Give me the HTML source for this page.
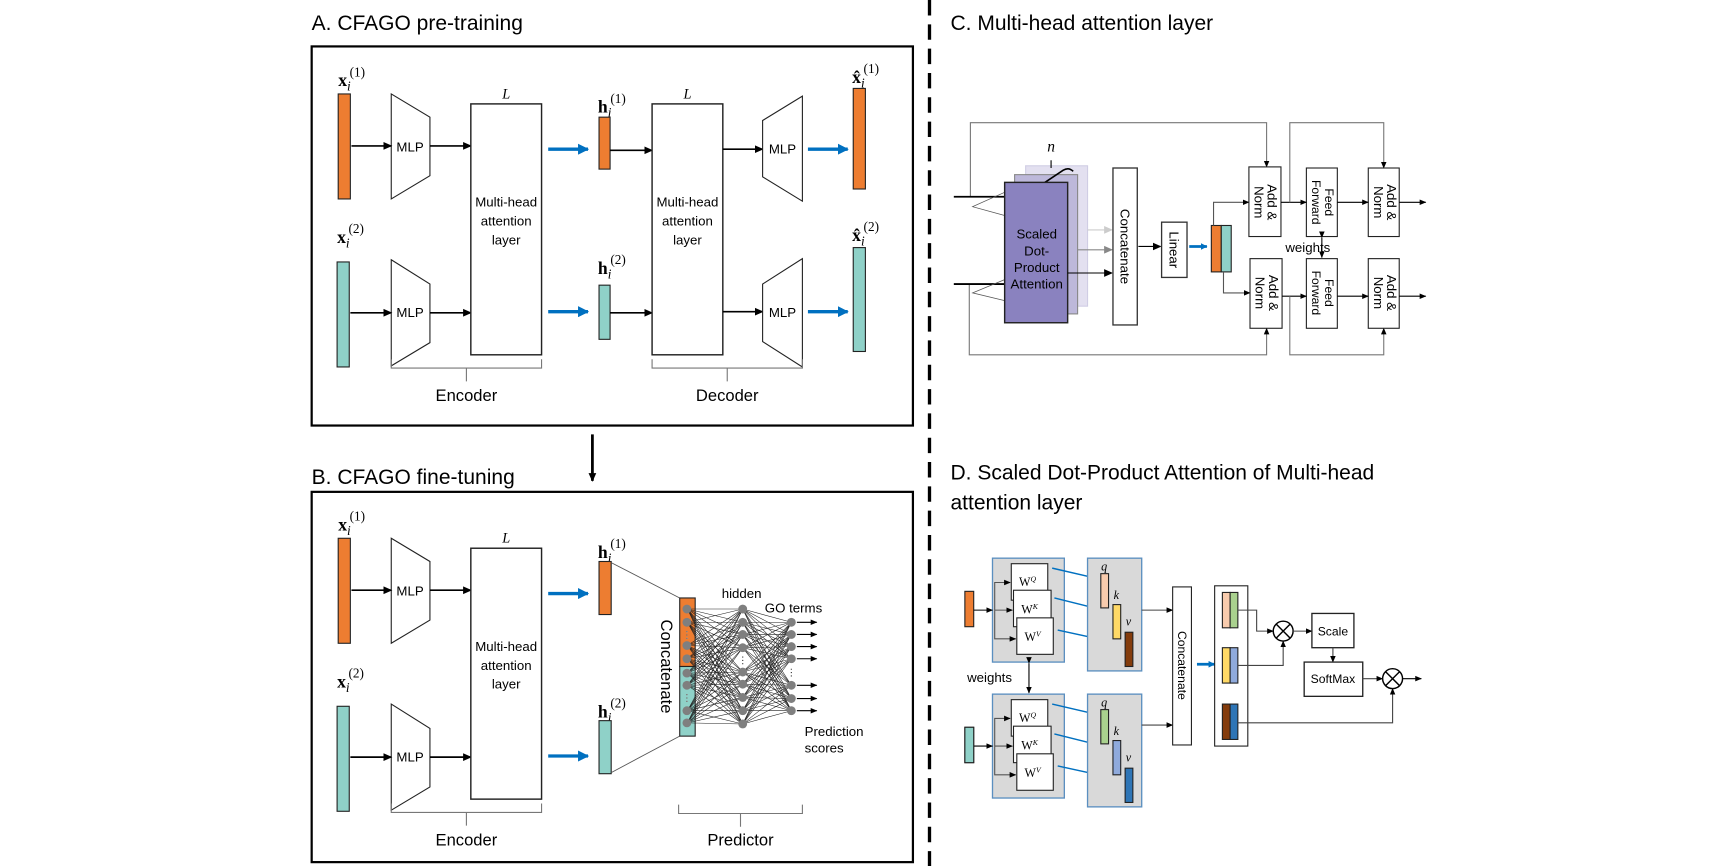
<!DOCTYPE html>
<html><head><meta charset="utf-8"><style>
html,body{margin:0;padding:0;background:#fff}
svg{display:block}
text{font-family:"Liberation Sans",sans-serif;fill:#000}
.m{font-family:"Liberation Serif",serif}
</style></head><body>
<svg id="s" width="1733" height="866" viewBox="0 0 1568 783.5" preserveAspectRatio="none" xmlns="http://www.w3.org/2000/svg">
<defs>
<marker id="a" markerWidth="8" markerHeight="8" refX="7" refY="4" orient="auto" markerUnits="userSpaceOnUse"><path d="M0,0.5 L8,4 L0,7.5z" fill="#000"/></marker>
<marker id="as" markerWidth="6" markerHeight="6" refX="5.5" refY="3" orient="auto" markerUnits="userSpaceOnUse"><path d="M0,0.5 L6,3 L0,5.5z" fill="#000"/></marker>
<marker id="ag" markerWidth="8" markerHeight="8" refX="7" refY="4" orient="auto" markerUnits="userSpaceOnUse"><path d="M0,0.5 L8,4 L0,7.5z" fill="#888"/></marker>
<marker id="al" markerWidth="8" markerHeight="8" refX="7" refY="4" orient="auto" markerUnits="userSpaceOnUse"><path d="M0,0.5 L8,4 L0,7.5z" fill="#ccc"/></marker>
<marker id="ab" markerWidth="10" markerHeight="10" refX="9" refY="5" orient="auto" markerUnits="userSpaceOnUse"><path d="M0,0 L10,5 L0,10z" fill="#0070c0"/></marker>
<marker id="abs" markerWidth="6" markerHeight="6" refX="5.5" refY="3" orient="auto" markerUnits="userSpaceOnUse"><path d="M0,0 L6,3 L0,6z" fill="#0070c0"/></marker>
</defs>

<!-- ===== Panel A ===== -->
<text x="282" y="27" font-size="19">A. CFAGO pre-training</text>
<rect x="282" y="42" width="544" height="343" fill="none" stroke="#000" stroke-width="2"/>
<g id="enc">
<text class="m" x="306" y="78" font-size="16" font-weight="bold">x<tspan font-weight="normal" font-style="italic" font-size="12" dy="4">i</tspan><tspan font-weight="normal" font-size="12" dx="-1" dy="-13">(1)</tspan></text>
<rect x="306" y="85" width="11" height="95" fill="#ed7d31" stroke="#222"/>
<text class="m" x="305" y="220" font-size="16" font-weight="bold">x<tspan font-weight="normal" font-style="italic" font-size="12" dy="4">i</tspan><tspan font-weight="normal" font-size="12" dx="-1" dy="-13">(2)</tspan></text>
<rect x="305" y="237" width="11" height="95" fill="#8fd1c8" stroke="#222"/>
<polygon points="354,85 389,106 389,159 354,180" fill="#fff" stroke="#222"/>
<polygon points="354,235 389,257 389,310 354,331" fill="#fff" stroke="#222"/>
<text x="371" y="137" font-size="12" text-anchor="middle">MLP</text>
<text x="371" y="287" font-size="12" text-anchor="middle">MLP</text>
<line x1="318" y1="132" x2="354" y2="132" stroke="#000" stroke-width="1.5" marker-end="url(#a)"/>
<line x1="317" y1="283" x2="354" y2="283" stroke="#000" stroke-width="1.5" marker-end="url(#a)"/>
<line x1="389" y1="132" x2="426" y2="132" stroke="#000" stroke-width="1.5" marker-end="url(#a)"/>
<line x1="389" y1="283" x2="426" y2="283" stroke="#000" stroke-width="1.5" marker-end="url(#a)"/>
<rect x="426" y="94" width="64" height="227" fill="#fff" stroke="#222" stroke-width="1.3"/>
<text class="m" x="458" y="89" font-size="13" font-style="italic" text-anchor="middle">L</text>
<text x="458" y="187" font-size="12" text-anchor="middle">Multi-head</text>
<text x="458" y="204" font-size="12" text-anchor="middle">attention</text>
<text x="458" y="221" font-size="12" text-anchor="middle">layer</text>
<line x1="496" y1="135" x2="532" y2="135" stroke="#0070c0" stroke-width="3" marker-end="url(#ab)"/>
<line x1="496" y1="282" x2="532" y2="282" stroke="#0070c0" stroke-width="3" marker-end="url(#ab)"/>
<path d="M354,325 v8 h68 v12 M422,333 h68 v-8" fill="none" stroke="#777"/>
<text x="422" y="363" font-size="15" text-anchor="middle">Encoder</text>
</g>
<text class="m" x="541" y="102" font-size="16" font-weight="bold">h<tspan font-weight="normal" font-style="italic" font-size="12" dy="4">i</tspan><tspan font-weight="normal" font-size="12" dx="-1" dy="-13">(1)</tspan></text>
<rect x="542" y="106" width="10" height="47" fill="#ed7d31" stroke="#222"/>
<text class="m" x="541" y="248" font-size="16" font-weight="bold">h<tspan font-weight="normal" font-style="italic" font-size="12" dy="4">i</tspan><tspan font-weight="normal" font-size="12" dx="-1" dy="-13">(2)</tspan></text>
<rect x="542" y="258" width="10" height="49" fill="#8fd1c8" stroke="#222"/>
<line x1="552" y1="136" x2="590" y2="136" stroke="#000" stroke-width="1.5" marker-end="url(#a)"/>
<line x1="552" y1="283" x2="590" y2="283" stroke="#000" stroke-width="1.5" marker-end="url(#a)"/>
<rect x="590" y="94" width="64" height="227" fill="#fff" stroke="#222" stroke-width="1.3"/>
<text class="m" x="622" y="89" font-size="13" font-style="italic" text-anchor="middle">L</text>
<text x="622" y="187" font-size="12" text-anchor="middle">Multi-head</text>
<text x="622" y="204" font-size="12" text-anchor="middle">attention</text>
<text x="622" y="221" font-size="12" text-anchor="middle">layer</text>
<line x1="654" y1="135" x2="690" y2="135" stroke="#000" stroke-width="1.5" marker-end="url(#a)"/>
<line x1="654" y1="282" x2="690" y2="282" stroke="#000" stroke-width="1.5" marker-end="url(#a)"/>
<polygon points="690,109 726,87 726,182 690,160" fill="#fff" stroke="#222"/>
<polygon points="690,257 726,234 726,332 690,309" fill="#fff" stroke="#222"/>
<text x="708" y="139" font-size="12" text-anchor="middle">MLP</text>
<text x="708" y="287" font-size="12" text-anchor="middle">MLP</text>
<line x1="731" y1="135" x2="767" y2="135" stroke="#0070c0" stroke-width="3" marker-end="url(#ab)"/>
<line x1="731" y1="282" x2="767" y2="282" stroke="#0070c0" stroke-width="3" marker-end="url(#ab)"/>
<text class="m" x="771" y="75" font-size="16" font-weight="bold">x̂<tspan font-weight="normal" font-style="italic" font-size="12" dy="4">i</tspan><tspan font-weight="normal" font-size="12" dx="-1" dy="-13">(1)</tspan></text>
<rect x="772" y="80" width="11" height="91" fill="#ed7d31" stroke="#222"/>
<text class="m" x="771" y="218" font-size="16" font-weight="bold">x̂<tspan font-weight="normal" font-style="italic" font-size="12" dy="4">i</tspan><tspan font-weight="normal" font-size="12" dx="-1" dy="-13">(2)</tspan></text>
<rect x="772" y="224" width="11" height="94" fill="#8fd1c8" stroke="#222"/>
<path d="M590,325 v8 h68 v12 M658,333 h68 v-8" fill="none" stroke="#777"/>
<text x="658" y="363" font-size="15" text-anchor="middle">Decoder</text>

<line x1="536" y1="393" x2="536" y2="435" stroke="#000" stroke-width="2.5" marker-end="url(#a)"/>

<!-- ===== Panel B ===== -->
<text x="282" y="438" font-size="19">B. CFAGO fine-tuning</text>
<rect x="282" y="445" width="544" height="335" fill="none" stroke="#000" stroke-width="2"/>
<use href="#enc" transform="translate(0,402)"/>
<text class="m" x="541" y="505" font-size="16" font-weight="bold">h<tspan font-weight="normal" font-style="italic" font-size="12" dy="4">i</tspan><tspan font-weight="normal" font-size="12" dx="-1" dy="-13">(1)</tspan></text>
<rect x="542" y="508" width="11" height="48" fill="#ed7d31" stroke="#222"/>
<text class="m" x="541" y="649" font-size="16" font-weight="bold">h<tspan font-weight="normal" font-style="italic" font-size="12" dy="4">i</tspan><tspan font-weight="normal" font-size="12" dx="-1" dy="-13">(2)</tspan></text>
<rect x="542" y="652" width="11" height="48" fill="#8fd1c8" stroke="#222"/>
<line x1="553" y1="509" x2="615" y2="541" stroke="#555" stroke-width="0.8"/>
<line x1="553" y1="699" x2="615" y2="666" stroke="#555" stroke-width="0.8"/>
<rect x="615" y="541" width="14" height="62" fill="#ed7d31" stroke="#222"/>
<rect x="615" y="603" width="14" height="63" fill="#8fd1c8" stroke="#222"/>
<text x="0" y="0" font-size="15" text-anchor="middle" transform="translate(598,603) rotate(90)">Concatenate</text>
<g id="nn"></g>
<text x="671" y="541" font-size="12" text-anchor="middle">hidden</text>
<text x="692" y="554" font-size="12">GO terms</text>
<text x="728" y="666" font-size="12">Prediction</text>
<text x="728" y="681" font-size="12">scores</text>
<path d="M614,728 v8 h56 v12 M670,736 h56 v-8" fill="none" stroke="#777"/>
<text x="670" y="765" font-size="15" text-anchor="middle">Predictor</text>

<!-- divider -->
<line x1="841" y1="0" x2="841" y2="784" stroke="#000" stroke-width="3" stroke-dasharray="14,8"/>

<!-- ===== Panel C ===== -->
<text x="860" y="27" font-size="19">C. Multi-head attention layer</text>
<polyline points="878,178 878,111 1146,111 1146,151" fill="none" stroke="#777" marker-end="url(#as)"/>
<polyline points="877,257 877,321 1146,321 1146,297" fill="none" stroke="#777" marker-end="url(#as)"/>
<line x1="863" y1="178" x2="909" y2="178" stroke="#000" stroke-width="1.6"/>
<line x1="863" y1="257" x2="909" y2="257" stroke="#000" stroke-width="1.6"/>
<polyline points="909,174 880,187 909,195" fill="none" stroke="#555" stroke-width="0.7"/>
<polyline points="909,253 880,265 909,272" fill="none" stroke="#555" stroke-width="0.7"/>
<rect x="928" y="150" width="56" height="127" fill="#e3e0f0" stroke="#d0cde4"/>
<rect x="918" y="158" width="57" height="126" fill="#bdb8da" stroke="#888"/>
<path d="M941,168 L962,154 Q967,151 971,155" fill="none" stroke="#000" stroke-width="1.5"/>
<line x1="951" y1="145" x2="951" y2="152" stroke="#000" stroke-width="1"/>
<text class="m" x="951" y="137" font-size="14" font-style="italic" text-anchor="middle">n</text>
<rect x="909" y="165" width="57" height="127" fill="#8a82bf" stroke="#222" stroke-width="1.3"/>
<text x="938" y="216" font-size="12" text-anchor="middle">Scaled</text>
<text x="938" y="231" font-size="12" text-anchor="middle">Dot-</text>
<text x="938" y="246" font-size="12" text-anchor="middle">Product</text>
<text x="938" y="261" font-size="12" text-anchor="middle">Attention</text>
<line x1="984" y1="208" x2="1006" y2="208" stroke="#ccc" marker-end="url(#al)"/>
<line x1="975" y1="226" x2="1006" y2="226" stroke="#888" marker-end="url(#ag)"/>
<line x1="966" y1="247" x2="1006" y2="247" stroke="#000" marker-end="url(#a)"/>
<rect x="1007" y="152" width="22" height="142" fill="#fff" stroke="#333" stroke-width="1.2"/>
<text font-size="12" text-anchor="middle" transform="translate(1014,223) rotate(90)">Concatenate</text>
<line x1="1030" y1="223" x2="1050" y2="223" stroke="#000" marker-end="url(#a)"/>
<rect x="1051" y="201" width="23" height="50" fill="#fff" stroke="#333" stroke-width="1.2"/>
<text font-size="12" text-anchor="middle" transform="translate(1058,226) rotate(90)">Linear</text>
<line x1="1076" y1="223" x2="1092" y2="223" stroke="#0070c0" stroke-width="2.5" marker-end="url(#abs)"/>
<rect x="1096" y="204" width="9" height="42" fill="#ed7d31" stroke="#222"/>
<rect x="1105" y="204" width="9" height="42" fill="#8fd1c8" stroke="#222"/>
<polyline points="1098,204 1098,183 1130,183" fill="none" stroke="#555" marker-end="url(#as)"/>
<polyline points="1107,246 1107,265 1131,265" fill="none" stroke="#555" marker-end="url(#as)"/>
<g font-size="12" text-anchor="middle">
<rect x="1130" y="151" width="29" height="63" fill="#fff" stroke="#222"/>
<text transform="translate(1147,183) rotate(90)">Add &amp;</text><text transform="translate(1135,183) rotate(90)">Norm</text>
<rect x="1131" y="234" width="29" height="63" fill="#fff" stroke="#222"/>
<text transform="translate(1148,265) rotate(90)">Add &amp;</text><text transform="translate(1136,265) rotate(90)">Norm</text>
<rect x="1182" y="152" width="28" height="62" fill="#fff" stroke="#222"/>
<text font-size="11" transform="translate(1199,183) rotate(90)">Feed</text><text font-size="11" transform="translate(1187,183) rotate(90)">Forward</text>
<rect x="1182" y="234" width="28" height="63" fill="#fff" stroke="#222"/>
<text font-size="11" transform="translate(1199,265) rotate(90)">Feed</text><text font-size="11" transform="translate(1187,265) rotate(90)">Forward</text>
<rect x="1238" y="152" width="28" height="62" fill="#fff" stroke="#222"/>
<text transform="translate(1255,183) rotate(90)">Add &amp;</text><text transform="translate(1243,183) rotate(90)">Norm</text>
<rect x="1238" y="234" width="28" height="63" fill="#fff" stroke="#222"/>
<text transform="translate(1255,265) rotate(90)">Add &amp;</text><text transform="translate(1243,265) rotate(90)">Norm</text>
</g>
<line x1="1159" y1="183" x2="1182" y2="183" stroke="#000" marker-end="url(#as)"/>
<line x1="1160" y1="268" x2="1182" y2="268" stroke="#000" marker-end="url(#as)"/>
<line x1="1210" y1="183" x2="1238" y2="183" stroke="#000" marker-end="url(#as)"/>
<line x1="1210" y1="268" x2="1238" y2="268" stroke="#000" marker-end="url(#as)"/>
<line x1="1266" y1="183" x2="1290" y2="183" stroke="#000" marker-end="url(#as)"/>
<line x1="1266" y1="268" x2="1290" y2="268" stroke="#000" marker-end="url(#as)"/>
<polyline points="1167,183 1167,111 1252,111 1252,152" fill="none" stroke="#777" marker-end="url(#as)"/>
<polyline points="1167,268 1167,321 1252,321 1252,297" fill="none" stroke="#777" marker-end="url(#as)"/>
<line x1="1196" y1="215" x2="1196" y2="233" stroke="#000" marker-start="url(#as)" marker-end="url(#as)"/>
<text x="1163" y="228" font-size="12">weights</text>

<!-- ===== Panel D ===== -->
<text x="860" y="434" font-size="19">D. Scaled Dot-Product Attention of Multi-head</text>
<text x="860" y="461" font-size="19">attention layer</text>
<g id="wblk">
<rect x="898" y="505" width="65" height="94" fill="#d9d9d9" stroke="#5b8fc0" stroke-width="1.2"/>
<rect x="873" y="535" width="8" height="32" fill="#ed7d31" stroke="#222"/>
<line x1="881" y1="552" x2="898" y2="552" stroke="#000" marker-end="url(#as)"/>
<polyline points="900,552 900,527 914,527" fill="none" stroke="#555" marker-end="url(#as)"/>
<line x1="900" y1="552" x2="916" y2="552" stroke="#555" marker-end="url(#as)"/>
<polyline points="900,552 900,578 919,578" fill="none" stroke="#555" marker-end="url(#as)"/>
<rect x="915" y="510" width="33" height="33" fill="#fff" stroke="#222"/>
<rect x="917" y="534" width="34" height="33" fill="#fff" stroke="#222"/>
<rect x="920" y="559" width="33" height="33" fill="#fff" stroke="#222"/>
<text class="m" x="922" y="530" font-size="11">W<tspan font-size="7" dy="-4" font-style="italic">Q</tspan></text>
<text class="m" x="924" y="555" font-size="11">W<tspan font-size="7" dy="-4" font-style="italic">K</tspan></text>
<text class="m" x="927" y="580" font-size="11">W<tspan font-size="7" dy="-4" font-style="italic">V</tspan></text>
<line x1="952" y1="514" x2="991" y2="523" stroke="#0070c0" stroke-width="1.3" marker-end="url(#abs)"/>
<line x1="954" y1="541" x2="1002" y2="553" stroke="#0070c0" stroke-width="1.3" marker-end="url(#abs)"/>
<line x1="957" y1="570" x2="1012" y2="582" stroke="#0070c0" stroke-width="1.3" marker-end="url(#abs)"/>
<rect x="984" y="505" width="49" height="102" fill="#d9d9d9" stroke="#5b8fc0" stroke-width="1.2"/>
<text class="m" x="999" y="516" font-size="11" font-style="italic" text-anchor="middle">q</text>
<text class="m" x="1010" y="542" font-size="11" font-style="italic" text-anchor="middle">k</text>
<text class="m" x="1021" y="566" font-size="11" font-style="italic" text-anchor="middle">v</text>
</g>
<rect x="996" y="519" width="7" height="31" fill="#f8cbad" stroke="#222"/>
<rect x="1007" y="547" width="7" height="31" fill="#ffd966" stroke="#222"/>
<rect x="1018" y="572" width="7" height="31" fill="#843c0c" stroke="#222"/>
<use href="#wblk" transform="translate(0,123)"/>
<rect x="873" y="658" width="8" height="32" fill="#8fd1c8" stroke="#222"/>
<rect x="996" y="642" width="7" height="31" fill="#a9d18e" stroke="#222"/>
<rect x="1007" y="670" width="7" height="31" fill="#8faadc" stroke="#222"/>
<rect x="1018" y="695" width="7" height="31" fill="#2e75b6" stroke="#222"/>
<line x1="931" y1="600" x2="931" y2="627" stroke="#000" marker-start="url(#as)" marker-end="url(#as)"/>
<text x="875" y="617" font-size="12">weights</text>
<line x1="1033" y1="552" x2="1061" y2="552" stroke="#444" marker-end="url(#as)"/>
<line x1="1033" y1="656" x2="1061" y2="656" stroke="#444" marker-end="url(#as)"/>
<rect x="1061" y="531" width="17" height="143" fill="#fff" stroke="#222"/>
<text font-size="11" text-anchor="middle" transform="translate(1066,602) rotate(90)">Concatenate</text>
<line x1="1083" y1="601" x2="1099" y2="601" stroke="#0070c0" stroke-width="2.5" marker-end="url(#abs)"/>
<rect x="1099" y="530" width="30" height="145" fill="#fff" stroke="#222"/>
<rect x="1106" y="536" width="7" height="32" fill="#f8cbad" stroke="#222"/><rect x="1113" y="536" width="7" height="32" fill="#a9d18e" stroke="#222"/>
<rect x="1106" y="586" width="7" height="32" fill="#ffd966" stroke="#222"/><rect x="1113" y="586" width="7" height="32" fill="#8faadc" stroke="#222"/>
<rect x="1106" y="637" width="7" height="32" fill="#843c0c" stroke="#222"/><rect x="1113" y="637" width="7" height="32" fill="#2e75b6" stroke="#222"/>
<polyline points="1120,552 1137,552 1137,571 1152,571" fill="none" stroke="#444" marker-end="url(#as)"/>
<polyline points="1120,602 1161,602 1161,580" fill="none" stroke="#444" marker-end="url(#as)"/>
<g stroke="#000" fill="#fff" stroke-width="1.3">
<circle cx="1161" cy="571" r="9"/><path d="M1154.6,564.6 L1167.4,577.4 M1167.4,564.6 L1154.6,577.4"/>
<circle cx="1260" cy="614" r="9"/><path d="M1253.6,607.6 L1266.4,620.4 M1266.4,607.6 L1253.6,620.4"/>
</g>
<line x1="1170" y1="571" x2="1187" y2="571" stroke="#444" marker-end="url(#as)"/>
<rect x="1187" y="555" width="38" height="31" fill="#fff" stroke="#222" stroke-width="1.2"/>
<text x="1206" y="575" font-size="11" text-anchor="middle">Scale</text>
<line x1="1206" y1="586" x2="1206" y2="599" stroke="#444" marker-end="url(#as)"/>
<rect x="1180" y="599" width="53" height="31" fill="#fff" stroke="#222" stroke-width="1.2"/>
<text x="1206" y="618" font-size="11" text-anchor="middle">SoftMax</text>
<line x1="1233" y1="614" x2="1251" y2="614" stroke="#444" marker-end="url(#as)"/>
<polyline points="1120,654 1260,654 1260,623" fill="none" stroke="#444" marker-end="url(#as)"/>
<line x1="1269" y1="614" x2="1286" y2="614" stroke="#000" marker-end="url(#as)"/>

<script>
(function(){
var g=document.getElementById('nn'),ns='http://www.w3.org/2000/svg';
var A=[551,563,584,596,609,620,643,654],H=[551,563,574,586,608,619,631,643,655],G=[563,574,585,596,620,632,643];
function el(n,a){var e=document.createElementNS(ns,n);for(var k in a)e.setAttribute(k,a[k]);g.appendChild(e);return e;}
A.forEach(function(a){H.forEach(function(h){el('line',{x1:622,y1:a,x2:672,y2:h,stroke:'#222','stroke-width':0.5});});});
H.forEach(function(h){G.forEach(function(o){el('line',{x1:672,y1:h,x2:716,y2:o,stroke:'#222','stroke-width':0.5});});});
A.forEach(function(a){el('circle',{cx:621.5,cy:a,r:4,fill:'#7f7f7f'});});
H.forEach(function(a){el('circle',{cx:672,cy:a,r:4,fill:'#7f7f7f'});});
G.forEach(function(a){el('circle',{cx:716,cy:a,r:4,fill:'#7f7f7f'});el('line',{x1:721,y1:a,x2:739,y2:a,stroke:'#000','marker-end':'url(#as)'});});
[[621.5,571,578],[621.5,628,636],[672,594,603],[716,605,614]].forEach(function(d){el('line',{x1:d[0],y1:d[1],x2:d[0],y2:d[2],stroke:'#fff','stroke-width':1.5,'stroke-dasharray':'1,2'});el('line',{x1:d[0],y1:d[1],x2:d[0],y2:d[2],stroke:'#333','stroke-width':1,'stroke-dasharray':'1,2'});});
})();
</script>
</svg>
</body></html>
